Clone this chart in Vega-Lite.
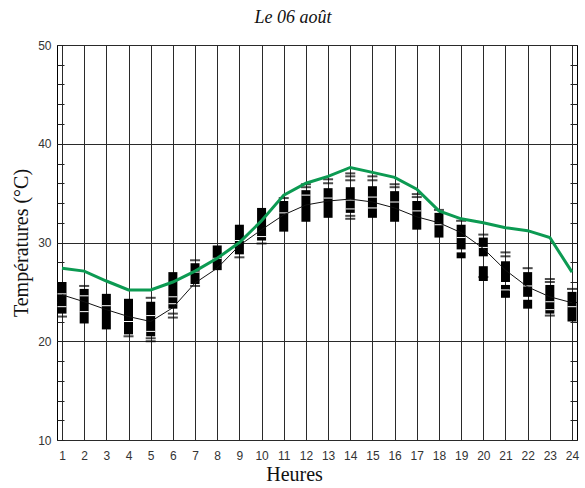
{
  "$schema": "https://vega.github.io/schema/vega-lite/v6.json",
  "autosize": "none",
  "width": 520,
  "height": 395,
  "padding": {"left": 57, "top": 45, "right": 8, "bottom": 48},
  "background": "white",
  "config": {"view": {"stroke": "black", "strokeWidth": 1}},
  "title": {"text": "Le 06 août", "font": "Liberation Serif", "fontStyle": "italic", "fontWeight": "normal", "fontSize": 18, "color": "#111", "offset": 12, "dx": -24},
  "datasets": {
    "mean": [
      {"h":1,"t":24.7},{"h":2,"t":24.0},{"h":3,"t":23.2},{"h":4,"t":22.5},{"h":5,"t":22.0},{"h":6,"t":23.4},
      {"h":7,"t":25.9},{"h":8,"t":27.4},{"h":9,"t":29.7},{"h":10,"t":31.3},{"h":11,"t":32.8},{"h":12,"t":33.8},
      {"h":13,"t":34.2},{"h":14,"t":34.4},{"h":15,"t":34.1},{"h":16,"t":33.5},{"h":17,"t":32.6},{"h":18,"t":32.0},
      {"h":19,"t":31.0},{"h":20,"t":29.4},{"h":21,"t":27.2},{"h":22,"t":25.5},{"h":23,"t":24.5},{"h":24,"t":23.9}
    ],
    "max": [
      {"h":1,"t":27.4},{"h":2,"t":27.1},{"h":3,"t":26.1},{"h":4,"t":25.2},{"h":5,"t":25.2},{"h":6,"t":26.0},
      {"h":7,"t":27.1},{"h":8,"t":28.4},{"h":9,"t":30.0},{"h":10,"t":32.2},{"h":11,"t":34.8},{"h":12,"t":36.0},
      {"h":13,"t":36.7},{"h":14,"t":37.6},{"h":15,"t":37.1},{"h":16,"t":36.6},{"h":17,"t":35.4},{"h":18,"t":33.2},
      {"h":19,"t":32.4},{"h":20,"t":32.0},{"h":21,"t":31.5},{"h":22,"t":31.2},{"h":23,"t":30.5},{"h":24,"t":27.0}
    ],
    "blocks": [
      {"h":1,"lo":22.8,"hi":26.0},{"h":2,"lo":21.8,"hi":25.3},{"h":3,"lo":21.2,"hi":24.8},{"h":4,"lo":20.7,"hi":24.3},
      {"h":5,"lo":20.5,"hi":24.0},{"h":6,"lo":23.3,"hi":27.0},{"h":7,"lo":25.8,"hi":27.9},{"h":8,"lo":27.2,"hi":29.7},
      {"h":9,"lo":28.8,"hi":31.8},{"h":10,"lo":30.2,"hi":33.5},{"h":11,"lo":31.1,"hi":34.2},{"h":12,"lo":32.1,"hi":35.3},
      {"h":13,"lo":32.5,"hi":35.5},{"h":14,"lo":33.0,"hi":35.6},{"h":15,"lo":32.5,"hi":35.7},{"h":16,"lo":32.1,"hi":35.2},
      {"h":17,"lo":31.3,"hi":34.2},{"h":18,"lo":30.5,"hi":33.0},{"h":19,"lo":29.3,"hi":31.8},{"h":19,"lo":28.4,"hi":29.0},
      {"h":20,"lo":28.6,"hi":30.5},{"h":20,"lo":26.1,"hi":27.6},{"h":21,"lo":26.0,"hi":28.1},{"h":21,"lo":24.4,"hi":25.7},
      {"h":22,"lo":24.5,"hi":27.0},{"h":22,"lo":23.3,"hi":24.2},{"h":23,"lo":22.8,"hi":25.7},{"h":24,"lo":22.0,"hi":25.0}
    ],
    "dashes": [
      {"h":1,"t":22.5},{"h":2,"t":25.6},{"h":4,"t":20.5},{"h":5,"t":24.4},{"h":5,"t":20.3},{"h":5,"t":20.0},
      {"h":6,"t":22.8},{"h":6,"t":22.4},{"h":7,"t":28.2},{"h":7,"t":25.6},{"h":9,"t":28.5},{"h":10,"t":29.9},
      {"h":11,"t":34.5},{"h":12,"t":35.6},{"h":12,"t":35.9},{"h":13,"t":36.0},{"h":13,"t":36.4},
      {"h":14,"t":36.3},{"h":14,"t":36.7},{"h":14,"t":37.0},{"h":14,"t":32.7},{"h":14,"t":32.4},
      {"h":15,"t":36.3},{"h":15,"t":36.7},{"h":16,"t":35.6},{"h":16,"t":35.9},{"h":17,"t":34.6},{"h":17,"t":34.9},
      {"h":18,"t":33.3},{"h":19,"t":32.2},{"h":20,"t":30.8},{"h":20,"t":26.5},{"h":21,"t":28.6},{"h":21,"t":29.0},
      {"h":22,"t":27.4},{"h":23,"t":26.0},{"h":23,"t":26.3},{"h":23,"t":22.6},{"h":24,"t":25.3}
    ],
    "gaps": [
      {"h":1,"t":24.8},{"h":1,"t":23.5},{"h":2,"t":24.6},{"h":2,"t":23.0},{"h":3,"t":23.6},{"h":4,"t":22.0},
      {"h":5,"t":22.6},{"h":5,"t":21.0},{"h":6,"t":24.5},{"h":6,"t":23.8},{"h":7,"t":27.0},{"h":8,"t":28.4},
      {"h":9,"t":30.2},{"h":10,"t":30.6},{"h":11,"t":33.0},{"h":12,"t":34.8},{"h":13,"t":34.5},{"h":14,"t":34.3},
      {"h":14,"t":33.4},{"h":15,"t":34.6},{"h":15,"t":33.5},{"h":16,"t":34.1},{"h":17,"t":33.2},{"h":18,"t":31.8},
      {"h":19,"t":30.5},{"h":20,"t":29.5},{"h":21,"t":25.2},{"h":22,"t":25.6},{"h":23,"t":24.0},{"h":23,"t":23.2},{"h":24,"t":23.5}
    ]
  },
  "encoding": {
    "x": {"field": "h", "type": "quantitative", "scale": {"domain": [1, 24], "nice": false, "zero": false},
      "axis": {"orient": "bottom", "values": [1,2,3,4,5,6,7,8,9,10,11,12,13,14,15,16,17,18,19,20,21,22,23,24], "format": "d",
        "labelOverlap": false, "labelBound": false,
        "grid": true, "gridColor": "#2a2a2a", "gridWidth": 1, "gridOpacity": 1, "ticks": false, "domain": false,
        "labelFont": "Liberation Sans", "labelFontSize": 12, "labelColor": "#333", "labelPadding": 10, "labelFlush": false,
        "title": "Heures", "titleX": 237, "titleFont": "Liberation Serif", "titleFontSize": 20, "titleFontWeight": "normal", "titleColor": "#111", "titlePadding": 3}}
  },
  "resolve": {"axis": {"y": "independent"}},
  "layer": [
    {
      "data": {"name": "blocks"},
      "mark": {"type": "bar", "color": "black", "size": 9, "clip": true},
      "encoding": {
        "y": {"field": "lo", "type": "quantitative", "scale": {"domain": [10, 50], "nice": false, "zero": false},
          "axis": {"orient": "left", "values": [10,12,14,16,18,20,22,24,26,28,30,32,34,36,38,40,42,44,46,48,50],
            "labelExpr": "datum.value % 10 === 0 ? datum.label : ''", "labelOverlap": false,
            "grid": true, "gridColor": "#2a2a2a", "gridWidth": 1,
            "gridOpacity": {"condition": {"test": "datum.value % 10 === 0", "value": 1}, "value": 0},
            "ticks": true, "tickSize": -7, "tickColor": "#222", "domain": false,
            "labelFont": "Liberation Sans", "labelFontSize": 12, "labelColor": "#333", "labelPadding": 13,
            "title": "Températures (°C)", "titleFont": "Liberation Serif", "titleFontSize": 20, "titleFontWeight": "normal", "titleColor": "#111", "titlePadding": 6}},
        "y2": {"field": "hi"}
      }
    },
    {
      "data": {"name": "gaps"},
      "mark": {"type": "tick", "color": "white", "thickness": 1, "size": 9, "orient": "horizontal", "clip": true, "opacity": 1},
      "encoding": {
        "y": {"field": "t", "type": "quantitative",
          "axis": {"orient": "right", "values": [10,12,14,16,18,20,22,24,26,28,30,32,34,36,38,40,42,44,46,48,50],
            "labels": false, "grid": false, "domain": false, "ticks": true, "tickSize": -7, "tickColor": "#222", "title": null}}
      }
    },
    {
      "data": {"name": "dashes"},
      "mark": {"type": "tick", "color": "black", "thickness": 2, "size": 10, "orient": "horizontal", "clip": true},
      "encoding": {
        "y": {"field": "t", "type": "quantitative", "axis": null}
      }
    },
    {
      "data": {"name": "mean"},
      "mark": {"type": "line", "color": "#111", "strokeWidth": 1},
      "encoding": {
        "y": {"field": "t", "type": "quantitative", "axis": null}
      }
    },
    {
      "data": {"name": "max"},
      "mark": {"type": "line", "color": "#0c9a52", "strokeWidth": 3},
      "encoding": {
        "y": {"field": "t", "type": "quantitative", "axis": null}
      }
    }
  ]
}
